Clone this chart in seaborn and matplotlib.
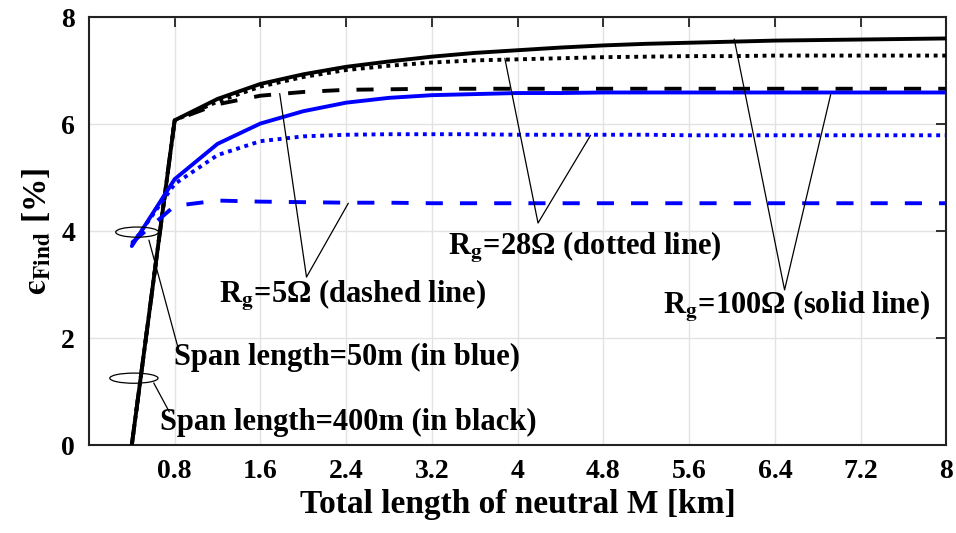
import matplotlib
matplotlib.use("Agg")
import matplotlib.pyplot as plt
from matplotlib.patches import Ellipse
import seaborn as sns
import pandas as pd

# total neutral length M [km]
m_km = [0.4, 0.8, 1.2, 1.6, 2.0, 2.4, 2.8, 3.2, 3.6, 4.0,
        4.4, 4.8, 5.2, 5.6, 6.0, 6.4, 6.8, 7.2, 7.6, 8.0]

# span length 400 m (black)
s400_rg100 = [0.0, 6.07, 6.47, 6.75, 6.93, 7.07, 7.17, 7.26, 7.33, 7.38,
              7.43, 7.47, 7.50, 7.52, 7.54, 7.56, 7.57, 7.58, 7.59, 7.60]
s400_rg28 = [0.0, 6.07, 6.42, 6.70, 6.88, 7.01, 7.09, 7.15, 7.19, 7.21,
             7.23, 7.25, 7.26, 7.27, 7.27, 7.28, 7.28, 7.28, 7.28, 7.28]
s400_rg5 = [0.0, 6.07, 6.37, 6.53, 6.60, 6.64, 6.65, 6.66, 6.66, 6.66,
            6.66, 6.66, 6.66, 6.66, 6.66, 6.66, 6.66, 6.66, 6.66, 6.66]

# span length 50 m (blue)
s50_rg100 = [3.72, 4.97, 5.63, 6.01, 6.24, 6.40, 6.49, 6.54, 6.56, 6.58,
             6.58, 6.59, 6.59, 6.59, 6.59, 6.59, 6.59, 6.59, 6.59, 6.59]
s50_rg28 = [3.75, 4.88, 5.42, 5.68, 5.77, 5.80, 5.81, 5.81, 5.81, 5.80,
            5.80, 5.80, 5.80, 5.79, 5.79, 5.79, 5.79, 5.79, 5.79, 5.79]
s50_rg5 = [3.78, 4.47, 4.57, 4.55, 4.54, 4.53, 4.53, 4.52, 4.52, 4.52,
           4.52, 4.52, 4.52, 4.52, 4.52, 4.52, 4.52, 4.52, 4.52, 4.52]

xtick_vals = [0.8, 1.6, 2.4, 3.2, 4.0, 4.8, 5.6, 6.4, 7.2, 8.0]
xtick_labels = ["0.8", "1.6", "2.4", "3.2", "4", "4.8", "5.6", "6.4", "7.2", "8"]
ytick_vals = [0, 2, 4, 6, 8]

sns.set_style("whitegrid")
plt.rcParams["font.family"] = ["Liberation Serif", "DejaVu Serif"]
plt.rcParams["font.weight"] = "bold"
plt.rcParams["mathtext.fontset"] = "stix"
plt.rcParams["mathtext.default"] = "bf"
plt.rcParams["text.color"] = "black"
plt.rcParams["axes.labelcolor"] = "black"

fig = plt.figure(figsize=(9.56, 5.33), dpi=100)
ax = fig.add_axes([0.093, 0.165, 0.897, 0.803])

lw = 2.8
dotted = (0, (1.0, 1.2))
dashed = (0, (4.4, 4.4))
series = [
    (s400_rg100, "black", "-"),
    (s400_rg28, "black", dotted),
    (s400_rg5, "black", dashed),
    (s50_rg100, "blue", "-"),
    (s50_rg28, "blue", dotted),
    (s50_rg5, "blue", dashed),
]
for vals, col, ls in series:
    df = pd.DataFrame({"M": m_km, "eps": vals})
    sns.lineplot(data=df, x="M", y="eps", ax=ax, color=col, linestyle=ls,
                 linewidth=lw, errorbar=None, zorder=3)

ax.set_xlim(0, 8)
ax.set_ylim(0, 8)
ax.set_xticks(xtick_vals)
ax.set_xticklabels(xtick_labels)
ax.set_yticks(ytick_vals)
ax.tick_params(axis="both", which="both", direction="in", length=7, width=1.3,
               top=True, right=True, labelsize=20, pad=10, color="#222222",
               labelcolor="black")
for lab in ax.get_xticklabels() + ax.get_yticklabels():
    lab.set_fontweight("bold")
ax.grid(True, color="#e3e3e3", linewidth=1.0)
for sp in ax.spines.values():
    sp.set_color("#222222")
    sp.set_linewidth(1.5)

ax.set_xlabel("Total length of neutral M [km]", fontsize=24, fontweight="bold",
              labelpad=4)
ax.set_ylabel("$\\mathrm{\u03f5}_{\\mathbf{Find}}$ [%]", fontsize=24,
              fontweight="bold", labelpad=6)

# R_g annotations
txt_kw = dict(fontsize=22, fontweight="bold", zorder=5)
ax.text(1.21, 2.67, r"R$_\mathbf{g}$=5Ω (dashed line)", va="baseline", **txt_kw)
ax.text(3.35, 3.56, r"R$_\mathbf{g}$=28Ω (dotted line)", va="baseline", **txt_kw)
ax.text(5.36, 2.45, r"R$_\mathbf{g}$=100Ω (solid line)", va="baseline", **txt_kw)

pointer_kw = dict(color="black", linewidth=0.9, zorder=4)
apexes = [((2.03, 3.14), (1.78, 6.57), (2.42, 4.52)),
          ((4.19, 4.15), (3.88, 7.23), (4.68, 5.79)),
          ((6.49, 2.90), (6.02, 7.59), (6.92, 6.55))]
for apex, p1, p2 in apexes:
    ax.plot([p1[0], apex[0], p2[0]], [p1[1], apex[1], p2[1]], **pointer_kw)

# span length annotations
ax.add_patch(Ellipse((0.45, 3.98), 0.40, 0.19, fill=False, edgecolor="black",
                     linewidth=0.9, zorder=4))
ax.add_patch(Ellipse((0.42, 1.25), 0.45, 0.19, fill=False, edgecolor="black",
                     linewidth=0.9, zorder=4))
ax.plot([0.56, 0.83], [3.83, 1.83], **pointer_kw)
ax.plot([0.605, 0.75], [1.16, 0.62], **pointer_kw)
ax.text(0.79, 1.50, "Span length=50m (in blue)", va="baseline", **txt_kw)
ax.text(0.66, 0.28, "Span length=400m (in black)", va="baseline", **txt_kw)

fig.savefig("out.png", dpi=100)
